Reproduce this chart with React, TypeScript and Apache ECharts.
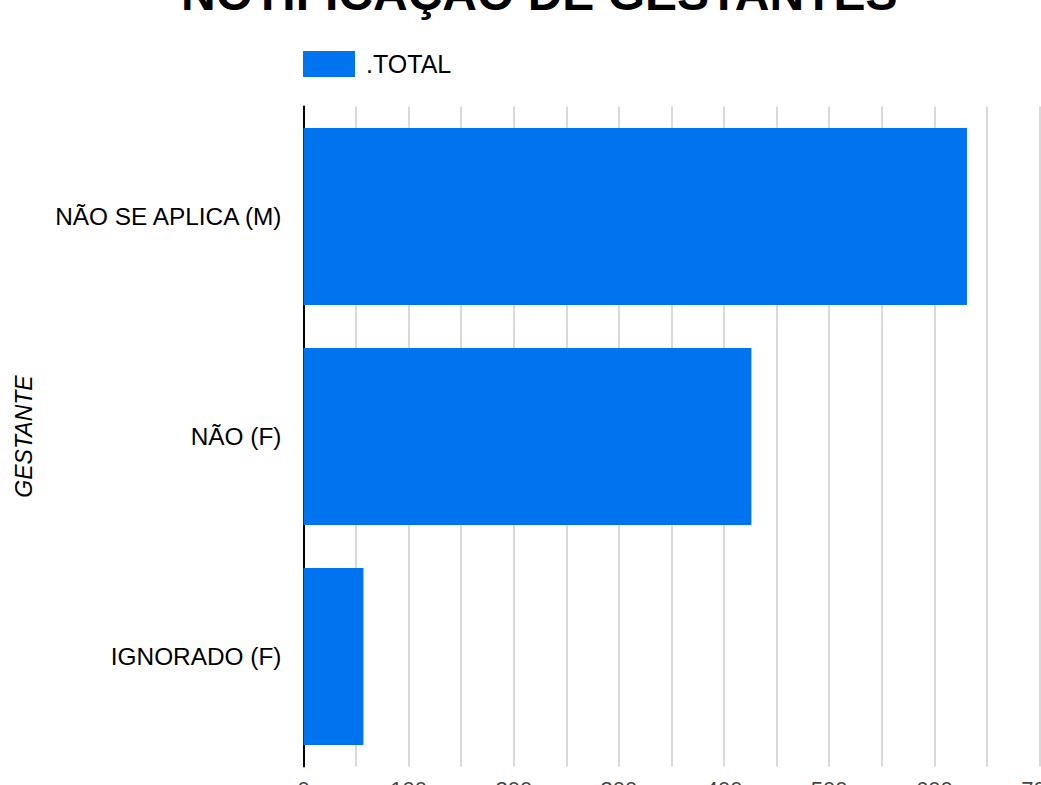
import React, { useEffect, useRef } from "react";
import * as echarts from "echarts";

const categories = ["NÃO SE APLICA (M)", "NÃO (F)", "IGNORADO (F)"];
const totals = [631, 426, 57];
const seriesName = ".TOTAL";
const titleText = "NOTIFICAÇÃO DE GESTANTES";
const yAxisName = "GESTANTE";

export default function App() {
  const ref = useRef<HTMLDivElement>(null);
  useEffect(() => {
    document.body.style.margin = "0";
    const chart = echarts.init(ref.current!, null, { renderer: "svg" });
    const font = "Liberation Sans, Arial, sans-serif";
    chart.setOption({
      animation: false,
      textStyle: { fontFamily: font },
      title: {
        text: titleText,
        left: 181,
        top: -31,
        padding: 0,
        textStyle: { fontSize: 48, fontWeight: "bold", color: "#000", fontFamily: font },
      },
      legend: {
        data: [seriesName],
        left: 298,
        top: 46,
        itemWidth: 52,
        itemHeight: 26,
        itemGap: 10,
        icon: "rect",
        textStyle: { fontSize: 25, color: "#000", fontFamily: font, padding: [0, 0, 0, 6] },
      },
      grid: {
        left: 303.5,
        right: 1.5,
        top: 106.5,
        bottom: 18.5,
        containLabel: false,
        outerBoundsMode: "none",
      },
      xAxis: {
        type: "value",
        min: 0,
        max: 700,
        interval: 100,
        axisLine: { show: false },
        axisTick: { show: false },
        axisLabel: { fontSize: 22, color: "#444", margin: 12, fontFamily: font },
        splitLine: { show: true, lineStyle: { color: "#cccccc", width: 1.5 } },
        minorTick: { show: false, splitNumber: 2 },
        minorSplitLine: { show: true, lineStyle: { color: "#cccccc", width: 1.5 } },
      },
      yAxis: {
        type: "category",
        data: categories,
        inverse: true,
        name: yAxisName,
        nameLocation: "middle",
        nameGap: 268,
        nameRotate: 90,
        nameTextStyle: { fontSize: 23, fontStyle: "italic", color: "#000", fontFamily: font },
        axisLine: { show: true, lineStyle: { color: "#000", width: 2 } },
        axisTick: { show: false },
        axisLabel: { fontSize: 24.4, color: "#000", margin: 22, fontFamily: font },
        splitLine: { show: false },
      },
      series: [
        {
          name: seriesName,
          type: "bar",
          data: totals,
          barWidth: 177,
          itemStyle: { color: "#0073EF" },
        },
      ],
    });
    return () => chart.dispose();
  }, []);
  return (
    <div
      ref={ref}
      style={{ position: "absolute", left: 0, top: 0, width: 1041, height: 785 }}
    />
  );
}
